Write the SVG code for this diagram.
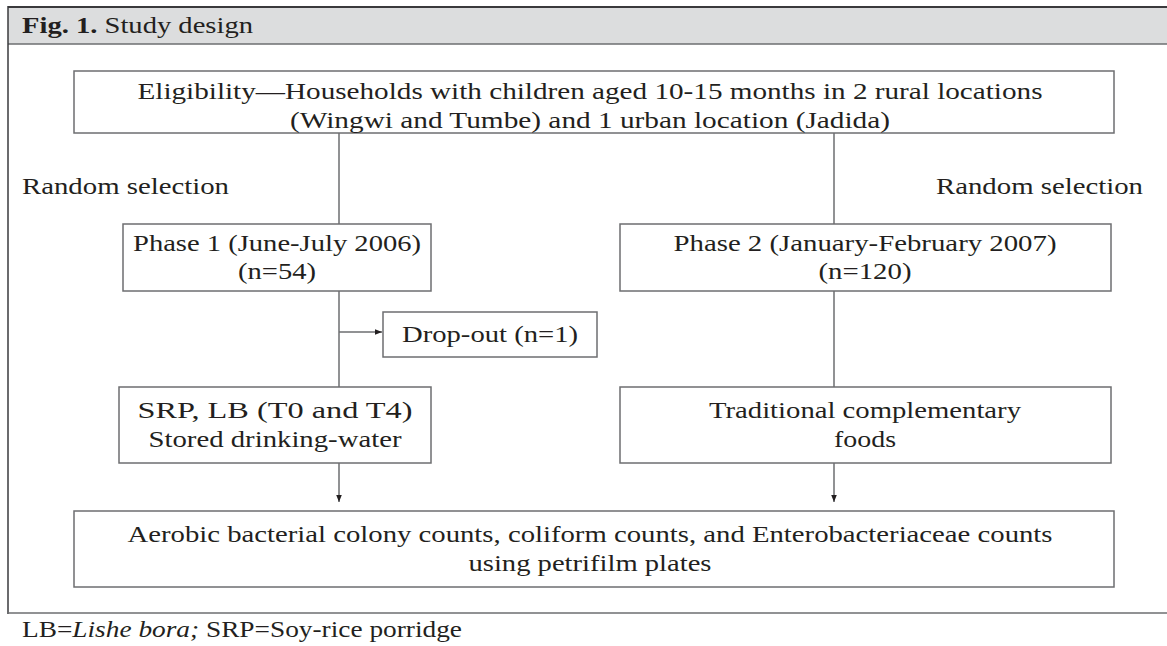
<svg xmlns="http://www.w3.org/2000/svg" width="1167" height="646" viewBox="0 0 1167 646">
<defs>
<style>
.t{font-family:"Liberation Serif","Times New Roman",serif;font-size:24px;fill:#231f20}
.m{text-anchor:middle}
.box{fill:#fff;stroke:#6d6e70;stroke-width:1.5}
.ln{stroke:#6d6e70;stroke-width:1.5;fill:none}
</style>
<marker id="ah" markerWidth="8" markerHeight="8" refX="7" refY="4" orient="auto" markerUnits="userSpaceOnUse">
<path d="M0,1.2 L7,4 L0,6.8 Z" fill="#231f20"/>
</marker>
</defs>
<rect width="1167" height="646" fill="#fff"/>
<g id="frame">
<rect x="8" y="7" width="1170" height="37" fill="#dcddde"/>
<line x1="8" y1="7" x2="1167" y2="7" stroke="#3a3a3c" stroke-width="2"/>
<line x1="8" y1="44" x2="1167" y2="44" stroke="#6d6e70" stroke-width="1.5"/>
<line x1="8" y1="6" x2="8" y2="614" stroke="#3a3a3c" stroke-width="1.5"/>
<line x1="8" y1="613" x2="1167" y2="613" stroke="#6d6e70" stroke-width="1.5"/>
<text class="t" x="22" y="33" textLength="231" lengthAdjust="spacingAndGlyphs"><tspan font-weight="bold">Fig. 1.</tspan> Study design</text>
<text class="t" x="22" y="637" textLength="440" lengthAdjust="spacingAndGlyphs">LB=<tspan font-style="italic">Lishe bora;</tspan> SRP=Soy-rice porridge</text>
</g>
<g id="connectors">
<line class="ln" x1="339" y1="133" x2="339" y2="224"/>
<line class="ln" x1="834" y1="133" x2="834" y2="224"/>
<line class="ln" x1="339" y1="291" x2="339" y2="387"/>
<line class="ln" x1="834" y1="291" x2="834" y2="387"/>
<line class="ln" x1="339" y1="332" x2="382" y2="332" marker-end="url(#ah)"/>
<line class="ln" x1="339" y1="463" x2="339" y2="502" marker-end="url(#ah)"/>
<line class="ln" x1="834" y1="463" x2="834" y2="502" marker-end="url(#ah)"/>
<text class="t" x="22" y="194" textLength="207" lengthAdjust="spacingAndGlyphs">Random selection</text>
<text class="t" x="936" y="194" textLength="207" lengthAdjust="spacingAndGlyphs">Random selection</text>
</g>
<g id="eligibility">
<rect class="box" x="74" y="71" width="1040" height="62"/>
<text class="t m" x="590" y="99" textLength="905" lengthAdjust="spacingAndGlyphs">Eligibility—Households with children aged 10-15 months in 2 rural locations</text>
<text class="t m" x="590" y="128" textLength="600" lengthAdjust="spacingAndGlyphs">(Wingwi and Tumbe) and 1 urban location (Jadida)</text>
</g>
<g id="phase1">
<rect class="box" x="123" y="224" width="308" height="67"/>
<text class="t m" x="277" y="251" textLength="288" lengthAdjust="spacingAndGlyphs">Phase 1 (June-July 2006)</text>
<text class="t m" x="277" y="279" textLength="78" lengthAdjust="spacingAndGlyphs">(n=54)</text>
</g>
<g id="phase2">
<rect class="box" x="620" y="224" width="491" height="67"/>
<text class="t m" x="865" y="251" textLength="383" lengthAdjust="spacingAndGlyphs">Phase 2 (January-February 2007)</text>
<text class="t m" x="865" y="279" textLength="93" lengthAdjust="spacingAndGlyphs">(n=120)</text>
</g>
<g id="dropout">
<rect class="box" x="383" y="312" width="214" height="45"/>
<text class="t m" x="490" y="342" textLength="176" lengthAdjust="spacingAndGlyphs">Drop-out (n=1)</text>
</g>
<g id="srp">
<rect class="box" x="119" y="387" width="312" height="76"/>
<text class="t m" x="275" y="418" textLength="275" lengthAdjust="spacingAndGlyphs">SRP, LB (T0 and T4)</text>
<text class="t m" x="275" y="447" textLength="253" lengthAdjust="spacingAndGlyphs">Stored drinking-water</text>
</g>
<g id="traditional">
<rect class="box" x="620" y="387" width="491" height="76"/>
<text class="t m" x="865" y="418" textLength="312" lengthAdjust="spacingAndGlyphs">Traditional complementary</text>
<text class="t m" x="865" y="447" textLength="62" lengthAdjust="spacingAndGlyphs">foods</text>
</g>
<g id="outcome">
<rect class="box" x="74" y="511" width="1040" height="76"/>
<text class="t m" x="590" y="542" textLength="925" lengthAdjust="spacingAndGlyphs">Aerobic bacterial colony counts, coliform counts, and Enterobacteriaceae counts</text>
<text class="t m" x="590" y="571" textLength="243" lengthAdjust="spacingAndGlyphs">using petrifilm plates</text>
</g>
</svg>
